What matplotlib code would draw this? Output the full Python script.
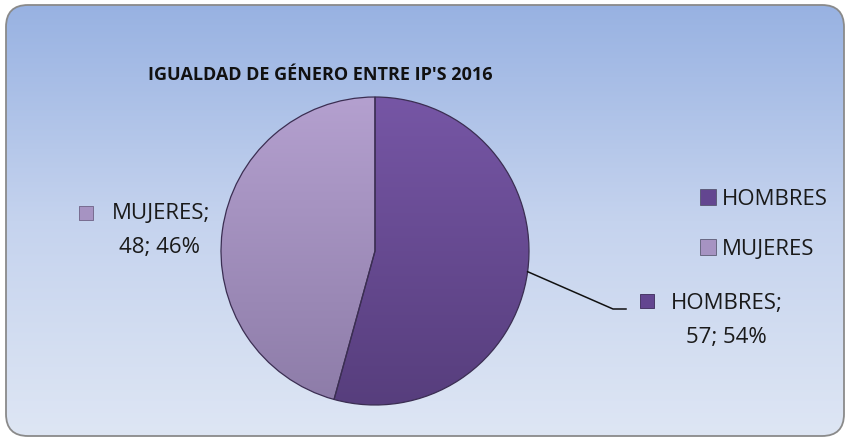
import matplotlib
matplotlib.use('Agg')
import matplotlib.pyplot as plt
import numpy as np
from matplotlib.patches import FancyBboxPatch, Patch
from matplotlib.colors import LinearSegmentedColormap

# ---- data ----
categories = ['HOMBRES', 'MUJERES']
values = [57, 48]
title = "IGUALDAD DE GÉNERO ENTRE IP'S 2016"
colors_top = ['#7656A5', '#B4A0CF']
colors_bot = ['#573E7D', '#8D7CA8']
colors_solid = ['#634690', '#A693C2']

plt.rcParams['font.family'] = ['Open Sans', 'DejaVu Sans']

W, H = 850, 440
fig = plt.figure(figsize=(8.5, 4.4), dpi=100)
fig.patch.set_facecolor('white')
ax = fig.add_axes([0, 0, 1, 1])

# ---- background rounded box with gradient ----
box = FancyBboxPatch((6, 4), 838, 431, boxstyle='round,pad=0,rounding_size=22',
                     fc='none', ec='#8a8a8a', lw=1.3, zorder=3)
ax.add_patch(box)
grad = np.linspace(0, 1, 256).reshape(-1, 1)
bg_cmap = LinearSegmentedColormap.from_list('bg', ['#DEE6F4', '#C5D3EE', '#98B2E2'])
im = ax.imshow(grad, extent=(6, 844, 4, 435), origin='lower', cmap=bg_cmap,
               aspect='auto', zorder=1)
im.set_clip_path(box)

# ---- pie ----
cx, cy, r = 375, 189, 154
wedges, _ = ax.pie(values, startangle=90, counterclock=False, center=(cx, cy),
                   radius=r, wedgeprops=dict(fc='none', ec='#3b2e52', lw=0.9, zorder=6))
for w, ct, cb in zip(wedges, colors_top, colors_bot):
    cm = LinearSegmentedColormap.from_list('w', [cb, ct])
    wim = ax.imshow(grad, extent=(cx - r, cx + r, cy - r, cy + r), origin='lower',
                    cmap=cm, aspect='auto', zorder=5)
    wim.set_clip_path(w)

ax.set_xlim(0, W)
ax.set_ylim(0, H)
ax.set_aspect('equal')
ax.axis('off')

# ---- title ----
ax.text(320, H - 75, title, ha='center', va='center', fontsize=13,
        fontweight='bold', color='#111111', zorder=7)

# ---- data labels ----
total = sum(values)
pcts = [round(v / total * 100) for v in values]
lbl_fs = 16
# MUJERES label (left)
ax.scatter([86], [H - 213], marker='s', s=100, c=colors_solid[1],
           edgecolors='#6e6185', linewidths=0.6, zorder=7)
ax.text(161, H - 213, f'{categories[1]};', ha='center', va='center',
        fontsize=lbl_fs, color='#1a1a1a', zorder=7)
ax.text(160, H - 247, f'{values[1]}; {pcts[1]}%', ha='center', va='center',
        fontsize=lbl_fs, color='#1a1a1a', zorder=7)
# HOMBRES label (right)
ax.scatter([647], [H - 301], marker='s', s=100, c=colors_solid[0],
           edgecolors='#3d2b5a', linewidths=0.6, zorder=7)
ax.text(727, H - 303, f'{categories[0]};', ha='center', va='center',
        fontsize=lbl_fs, color='#1a1a1a', zorder=7)
ax.text(726, H - 337, f'{values[0]}; {pcts[0]}%', ha='center', va='center',
        fontsize=lbl_fs, color='#1a1a1a', zorder=7)

# leader line for HOMBRES
ang = np.deg2rad(90 - 360 * (values[0] / total) / 2)
ex, ey = cx + r * np.cos(ang), cy + r * np.sin(ang)
ax.plot([ex, 613, 626], [ey, H - 309, H - 309], color='#111111', lw=1.1, zorder=7)

# ---- legend ----
handles = [Patch(fc=c, ec='#4a4a60', lw=0.5) for c in colors_solid]
leg = ax.legend(handles, categories, loc='upper left',
                bbox_to_anchor=(700 / W, 1 - 189 / H), frameon=False,
                fontsize=lbl_fs, handlelength=0.7, handleheight=0.7,
                handletextpad=0.3, labelspacing=1.3, borderpad=0,
                borderaxespad=0)
for t in leg.get_texts():
    t.set_color('#1a1a1a')
leg.set_zorder(8)

fig.savefig('out.png', dpi=100)
